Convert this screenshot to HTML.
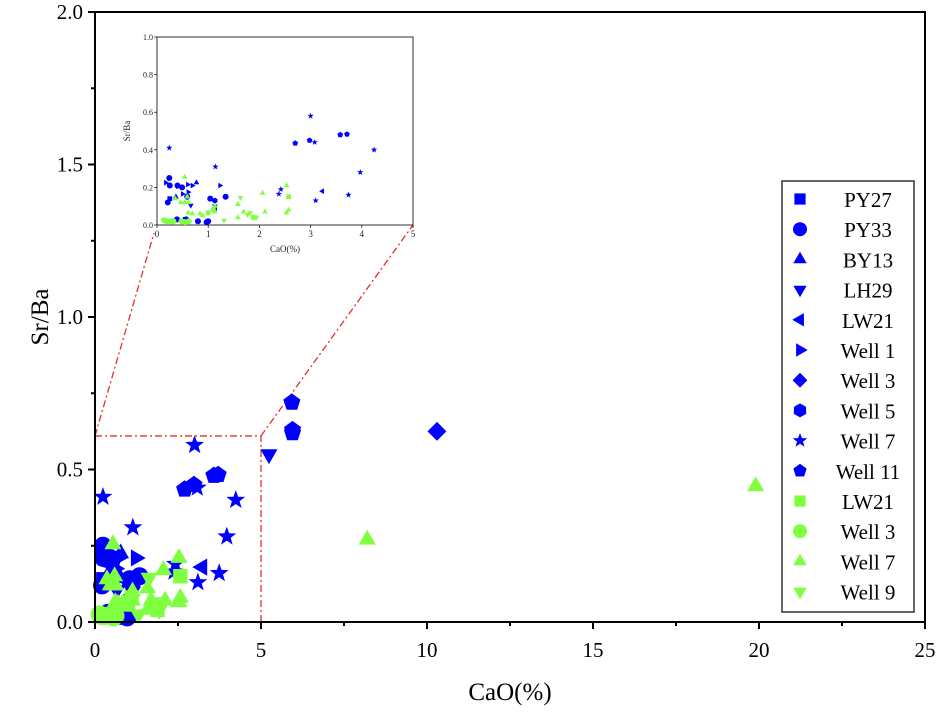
<!DOCTYPE html>
<html><head><meta charset="utf-8"><style>
html,body{margin:0;padding:0;background:#fff;}
svg{display:block;font-family:"Liberation Serif",serif;}
</style></head><body>
<svg id="chart" width="940" height="718" viewBox="0 0 940 718">
</svg>
<script>
// ---- data ----
const seriesNames = ["PY27","PY33","BY13","LH29","LW21","Well 1","Well 3","Well 5","Well 7","Well 11","LW21","Well 3","Well 7","Well 9"];
const seriesShapes = ["square","circle","up","down","left","right","diamond","hexagon","star","pentagon","square","circle","up","down"];
const seriesColors = ["#0000ff","#0000ff","#0000ff","#0000ff","#0000ff","#0000ff","#0000ff","#0000ff","#0000ff","#0000ff","#80ff40","#80ff40","#80ff40","#80ff40"];
const xPY27 = [0.25,0.55];
const yPY27 = [0.14,0.03];
const xPY33 = [0.24,0.25,0.21,0.49,0.40,0.59,1.04,1.34,0.39,0.57,0.80,0.97,1.00];
const yPY33 = [0.25,0.21,0.12,0.20,0.21,0.15,0.14,0.15,0.03,0.03,0.02,0.015,0.02];
const xBY13 = [0.77,0.37];
const yBY13 = [0.225,0.15];
const xLH29 = [0.66,1.13,5.24];
const yLH29 = [0.105,0.10,0.55];
const xLW21b = [3.23,1.14];
const yLW21b = [0.18,0.09];
const xWell1 = [0.17,0.50,0.60,0.69,1.23,0.61,0.41];
const yWell1 = [0.225,0.165,0.215,0.21,0.21,0.175,0.205];
const xWell3b = [10.3];
const yWell3b = [0.625];
const xWell5 = [1.13,0.30];
const yWell5 = [0.13,0.02];
const xWell7b = [0.24,1.14,3.0,3.08,4.24,3.97,3.74,3.10,2.42,2.38];
const yWell7b = [0.41,0.31,0.58,0.44,0.40,0.28,0.16,0.13,0.19,0.165];
const xWell11 = [5.93,5.95,5.95,2.70,2.98,3.58,3.71];
const yWell11 = [0.72,0.63,0.62,0.435,0.45,0.48,0.483];
const xLW21g = [2.57,1.00,1.88,1.10];
const yLW21g = [0.15,0.065,0.04,0.08];
const xWell3g = [0.14,0.19,0.26,0.32,0.48,0.62,0.55];
const yWell3g = [0.025,0.02,0.02,0.02,0.02,0.02,0.015];
const xWell7g = [0.54,0.46,0.54,0.62,2.53,2.06,2.11,2.57,2.53,1.58,1.58,1.69,1.13,1.13,0.69,0.61,0.36,0.59,0.84,0.89,8.2,19.9];
const yWell7g = [0.255,0.12,0.12,0.12,0.21,0.17,0.07,0.08,0.065,0.11,0.04,0.07,0.10,0.07,0.06,0.065,0.14,0.15,0.06,0.05,0.27,0.445];
const xWell9 = [1.63,1.31,1.77,1.82,1.90,1.94];
const yWell9 = [0.145,0.025,0.055,0.065,0.045,0.04];
const seriesX = [xPY27,xPY33,xBY13,xLH29,xLW21b,xWell1,xWell3b,xWell5,xWell7b,xWell11,xLW21g,xWell3g,xWell7g,xWell9];
const seriesY = [yPY27,yPY33,yBY13,yLH29,yLW21b,yWell1,yWell3b,yWell5,yWell7b,yWell11,yLW21g,yWell3g,yWell7g,yWell9];
const xTicks = [0,5,10,15,20,25];
const yTicks = [0,0.5,1.0,1.5,2.0];
const yTickLabels = ["0.0","0.5","1.0","1.5","2.0"];
const inXTicks = [0,1,2,3,4,5];
const inYTicks = [0,0.2,0.4,0.6,0.8,1.0];
const inYTickLabels = ["0.0","0.2","0.4","0.6","0.8","1.0"];

const NS="http://www.w3.org/2000/svg";
const svg=document.getElementById('chart');
function mk(tag,attrs,parent){const e=document.createElementNS(NS,tag);for(const k in attrs)e.setAttribute(k,attrs[k]);(parent||svg).appendChild(e);return e;}

const X0=95,X1=925,Y0=622,Y1=12;
const sx=v=>X0+(v/25)*(X1-X0);
const sy=v=>Y0-(v/2)*(Y0-Y1);
const IX0=157,IX1=413,IY0=225,IY1=37;
const isx=v=>IX0+(v/5)*(IX1-IX0);
const isy=v=>IY0-(v/1)*(IY0-IY1);

function shapePath(shape,cx,cy,r){
  const pts=(n,rot,rr)=>{let a=[];for(let i=0;i<n;i++){const t=rot+i*2*Math.PI/n;a.push((cx+rr*Math.cos(t)).toFixed(1)+","+(cy+rr*Math.sin(t)).toFixed(1));}return "M"+a.join("L")+"Z";};
  switch(shape){
    case "square": return `M${cx-r*0.8},${cy-r*0.8}h${1.6*r}v${1.6*r}h${-1.6*r}Z`;
    case "up": return pts(3,-Math.PI/2,r*1.1);
    case "down": return pts(3,Math.PI/2,r*1.1);
    case "left": return pts(3,Math.PI,r*1.1);
    case "right": return pts(3,0,r*1.1);
    case "diamond": return pts(4,0,r*1.05);
    case "hexagon": return pts(6,-Math.PI/2,r);
    case "pentagon": return pts(5,-Math.PI/2,r);
    case "star": {let a=[];for(let i=0;i<10;i++){const t=-Math.PI/2+i*Math.PI/5;const rr=i%2?r*0.45:r*1.1;a.push((cx+rr*Math.cos(t)).toFixed(1)+","+(cy+rr*Math.sin(t)).toFixed(1));}return "M"+a.join("L")+"Z";}
  }
  return null;
}
function marker(shape,cx,cy,r,color,parent){
  let e;
  if(shape==="circle") e=mk('circle',{cx:cx,cy:cy,r:r,fill:color},parent);
  else e=mk('path',{d:shapePath(shape,cx,cy,r),fill:color},parent);
  return e;
}

const guide=mk('g',{stroke:"#e03030","stroke-width":1.3,"stroke-dasharray":"7,3,2,3",fill:"none"});


mk('path',{d:`M${sx(0)},${sy(0.61)}H${sx(5)}V${Y0}`},guide);
mk('line',{x1:sx(0),y1:sy(0.61),x2:IX0-3,y2:IY0+8},guide);
mk('line',{x1:sx(5),y1:sy(0.61),x2:IX1,y2:IY0},guide);

const mainPts=mk('g',{});


for(let s=0;s<seriesNames.length;s++){
  for(let i=0;i<seriesX[s].length;i++){
    const m=marker(seriesShapes[s],sx(seriesX[s][i]),sy(seriesY[s][i]),9,seriesColors[s],mainPts);
    
    
  }
}

const ax=mk('g',{stroke:"#000","stroke-width":2,fill:"none"});


mk('rect',{x:X0,y:Y1,width:X1-X0,height:Y0-Y1},ax);
xTicks.forEach(v=>{mk('line',{x1:sx(v),y1:Y0,x2:sx(v),y2:Y0+7},ax);
  const t=mk('text',{x:sx(v),y:Y0+35,"text-anchor":"middle","font-size":21,fill:"#000",stroke:"none"});t.textContent=v;
  });
for(let v=2.5;v<25;v+=5) mk('line',{x1:sx(v),y1:Y0,x2:sx(v),y2:Y0+4},ax);
yTicks.forEach((v,i)=>{mk('line',{x1:X0-7,y1:sy(v),x2:X0,y2:sy(v)},ax);
  const t=mk('text',{x:X0-12,y:sy(v)+7,"text-anchor":"end","font-size":21,fill:"#000",stroke:"none"});t.textContent=yTickLabels[i];
  });
for(let v=0.25;v<2;v+=0.5) mk('line',{x1:X0-4,y1:sy(v),x2:X0,y2:sy(v)},ax);
let t=mk('text',{x:510,y:700,"text-anchor":"middle","font-size":25});t.textContent="CaO(%)";

t=mk('text',{x:0,y:0,"text-anchor":"middle","font-size":25,transform:"translate(48,317) rotate(-90)"});t.textContent="Sr/Ba";


const inset=mk('g',{});


mk('rect',{x:IX0,y:IY1,width:IX1-IX0,height:IY0-IY1,fill:"#fff",stroke:"#000","stroke-width":0.8},inset);
for(let s=0;s<seriesNames.length;s++){
  for(let i=0;i<seriesX[s].length;i++){
    if(seriesX[s][i]>5) continue;
    const m=marker(seriesShapes[s],isx(seriesX[s][i]),isy(seriesY[s][i]),3,seriesColors[s],inset);
    
    
  }
}
inXTicks.forEach(v=>{mk('line',{x1:isx(v),y1:IY0,x2:isx(v),y2:IY0+3,stroke:"#000","stroke-width":0.7},inset);
  const tt=mk('text',{x:isx(v),y:IY0+12,"text-anchor":"middle","font-size":9,fill:"#222"},inset);tt.textContent=v;});
inYTicks.forEach((v,i)=>{mk('line',{x1:IX0-3,y1:isy(v),x2:IX0,y2:isy(v),stroke:"#000","stroke-width":0.7},inset);
  const tt=mk('text',{x:IX0-4,y:isy(v)+3,"text-anchor":"end","font-size":8,fill:"#222"},inset);tt.textContent=inYTickLabels[i];});
t=mk('text',{x:285,y:252,"text-anchor":"middle","font-size":9,fill:"#222"},inset);t.textContent="CaO(%)";
t=mk('text',{x:0,y:0,"text-anchor":"middle","font-size":9,fill:"#222",transform:"translate(130,131) rotate(-90)"},inset);t.textContent="Sr/Ba";

const lg=mk('g',{});


mk('rect',{x:782,y:181,width:132,height:431,fill:"#fff",stroke:"#333","stroke-width":1.5},lg);
seriesNames.forEach((n,i)=>{
  const y=199+i*30.2;
  const g=mk('g',{},lg);
  
  
  marker(seriesShapes[i],800,y,7,seriesColors[i],g);
  const tx=mk('text',{x:868,y:y+8,"text-anchor":"middle","font-size":21,fill:"#000"},g);tx.textContent=n;
});
</script>
</body></html>
